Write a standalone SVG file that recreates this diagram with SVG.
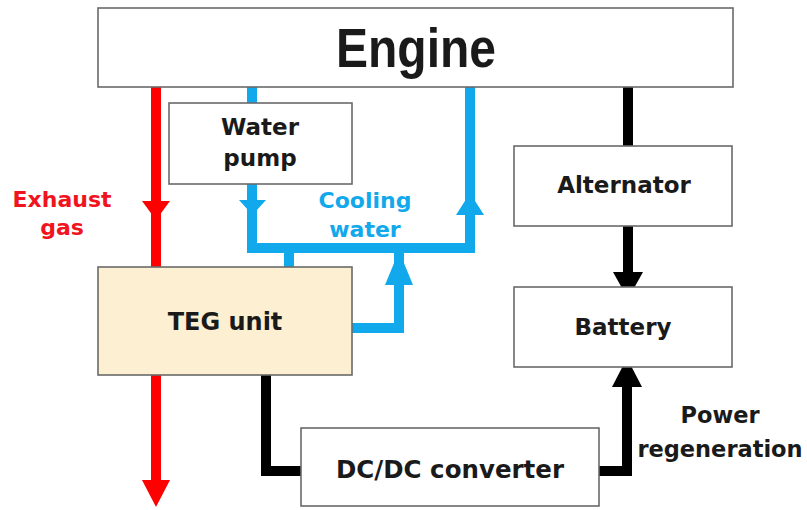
<svg xmlns="http://www.w3.org/2000/svg" width="807" height="510" viewBox="0 0 807 510">
<style>
  .box { fill: #ffffff; stroke: #6a6a6a; stroke-width: 1.6; }
  .teg { fill: #fcefd2; stroke: #6a6a6a; stroke-width: 1.6; }
  .lbl { font-family: "DejaVu Sans", "Liberation Sans", sans-serif; font-weight: bold; fill: #1a1a1a; text-anchor: middle; }
  .red { stroke: #ff0000; stroke-width: 10; fill: none; }
  .blue { stroke: #12a9ec; stroke-width: 10; fill: none; }
  .blk { stroke: #000000; stroke-width: 10; fill: none; }
  .redh { fill: #ff0000; }
  .blueh { fill: #12a9ec; }
  .blkh { fill: #000000; }
</style>
<rect width="807" height="510" fill="#ffffff"/>
<g id="connectors">
  <!-- exhaust gas -->
  <line class="red" x1="156" y1="87" x2="156" y2="267"/>
  <polygon class="redh" points="142,201 170,201 156,220"/>
  <line class="red" x1="156" y1="375" x2="156" y2="482"/>
  <polygon class="redh" points="142,480 170,480 156,507"/>
  <!-- cooling water -->
  <line class="blue" x1="252" y1="87" x2="252" y2="103"/>
  <polyline class="blue" points="252,184 252,248 470,248 470,87"/>
  <polygon class="blueh" points="239,200 266,200 252.5,215"/>
  <polygon class="blueh" points="456,215 484,215 470,193"/>
  <line class="blue" x1="289" y1="248" x2="289" y2="267"/>
  <polyline class="blue" points="352,328 399,328 399,250"/>
  <polygon class="blueh" points="385,285 413,285 399,251"/>
  <!-- electrical -->
  <line class="blk" x1="628" y1="87" x2="628" y2="146"/>
  <line class="blk" x1="628" y1="226" x2="628" y2="274"/>
  <polygon class="blkh" points="613,272 643,272 628,299"/>
  <polyline class="blk" points="266,375 266,471 301,471"/>
  <polyline class="blk" points="599,471 627,471 627,385"/>
  <polygon class="blkh" points="612,387 642,387 627,358"/>
</g>
<g id="engine">
  <rect class="box" x="98" y="8" width="635" height="79"/>
  <text class="lbl" x="416" y="67" font-size="55" textLength="160" lengthAdjust="spacingAndGlyphs" style="font-family:'Liberation Sans Narrow','Liberation Sans',sans-serif">Engine</text>
</g>
<g id="water-pump">
  <rect class="box" x="169" y="103" width="183" height="81"/>
  <text class="lbl" x="260" y="135" font-size="23">Water</text>
  <text class="lbl" x="260" y="166" font-size="23">pump</text>
</g>
<g id="teg-unit">
  <rect class="teg" x="98" y="267" width="254" height="108"/>
  <text class="lbl" x="225" y="330" font-size="24">TEG unit</text>
</g>
<g id="dcdc">
  <rect class="box" x="301" y="428" width="298" height="78"/>
  <text class="lbl" x="450" y="478" font-size="24.5">DC/DC converter</text>
</g>
<g id="alternator">
  <rect class="box" x="514" y="146" width="218" height="80"/>
  <text class="lbl" x="624" y="193" font-size="23">Alternator</text>
</g>
<g id="battery">
  <rect class="box" x="514" y="287" width="218" height="80"/>
  <text class="lbl" x="623" y="335" font-size="23">Battery</text>
</g>
<g id="labels">
  <text class="lbl" x="62" y="207" font-size="22" style="fill:#f0141e">Exhaust</text>
  <text class="lbl" x="62" y="235" font-size="22" style="fill:#f0141e">gas</text>
  <text class="lbl" x="365" y="208" font-size="22" style="fill:#12a9ec">Cooling</text>
  <text class="lbl" x="365" y="237" font-size="22" style="fill:#12a9ec">water</text>
  <text class="lbl" x="720" y="423" font-size="22.5">Power</text>
  <text class="lbl" x="720" y="457" font-size="22.5">regeneration</text>
</g>
</svg>
